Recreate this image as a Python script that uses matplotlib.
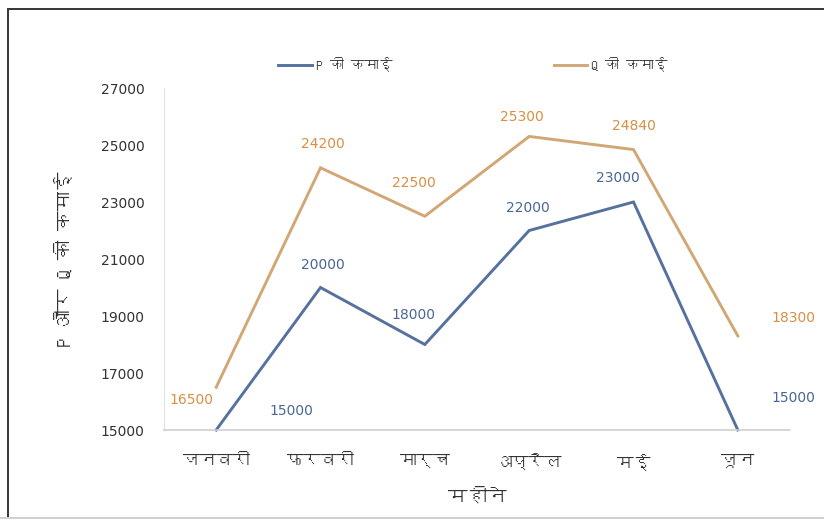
import matplotlib
matplotlib.use("Agg")
import matplotlib.pyplot as plt
from matplotlib import font_manager
from matplotlib.patches import Rectangle

months = ["जनवरी", "फरवरी", "मार्च", "अप्रैल", "मई", "जून"]
p_earnings = [15000, 20000, 18000, 22000, 23000, 15000]
q_earnings = [16500, 24200, 22500, 25300, 24840, 18300]
series_names = ["P की कमाई", "Q की कमाई"]
y_ticks = [15000, 17000, 19000, 21000, 23000, 25000, 27000]
x_title = "महीने"
y_title = "P और Q की कमाई"


def devanagari_family():
    """Return the name of an installed font that covers Devanagari, if any."""
    try:
        from fontTools.ttLib import TTFont
    except Exception:
        return None
    for entry in font_manager.fontManager.ttflist:
        try:
            tt = TTFont(entry.fname, fontNumber=0, lazy=True)
            cmap = tt.getBestCmap()
            if cmap and 0x0915 in cmap:
                return entry.name
        except Exception:
            continue
    return None


deva = devanagari_family()
families = ([deva] if deva else []) + ["DejaVu Sans"]
plt.rcParams["font.family"] = families

P_COLOR = "#56719e"
Q_COLOR = "#d2a775"
P_TEXT = "#4a6794"
Q_TEXT = "#d98f45"
TEXT = "#333333"

W, H = 824, 520
fig = plt.figure(figsize=(W / 100, H / 100), dpi=100)
ax = fig.add_axes([164 / W, 90 / H, (790 - 164) / W, (430 - 88) / H])

x = list(range(len(months)))
ax.plot(x, p_earnings, color=P_COLOR, lw=2.1, solid_joinstyle="miter",
        label=series_names[0], clip_on=False)
ax.plot(x, q_earnings, color=Q_COLOR, lw=2.1, solid_joinstyle="miter",
        label=series_names[1], clip_on=False)

ax.set_xlim(-0.5, len(months) - 0.5)
ax.set_ylim(y_ticks[0], y_ticks[-1])
ax.set_yticks(y_ticks)
ax.set_yticklabels([str(v) for v in y_ticks], fontsize=10, color=TEXT,
                   family=["DejaVu Sans"])
ax.set_xticks(x)
ax.set_xticklabels(months, fontsize=12, color=TEXT, fontweight="bold")
ax.tick_params(axis="both", length=0)
ax.tick_params(axis="y", pad=14)
ax.tick_params(axis="x", pad=17)

for side in ("top", "right"):
    ax.spines[side].set_visible(False)
ax.spines["left"].set_color("#e2e2e2")
ax.spines["bottom"].set_color("#d0d0d0")
ax.spines["bottom"].set_linewidth(1.2)

ax.set_xlabel(x_title, fontsize=14, color=TEXT, labelpad=12)
ax.set_ylabel(y_title, fontsize=14, color=TEXT, labelpad=20)

# value labels, offsets in points relative to each point
p_offsets = [(54, 14), (2, 16), (-8, 21), (-1, 16), (-11, 17), (40, 23)]
q_offsets = [(-18, -9), (2, 17), (-8, 24), (-5, 14), (0, 17), (40, 13)]
for i, v in enumerate(p_earnings):
    ax.annotate(str(v), (x[i], v), xytext=p_offsets[i], textcoords="offset points",
                ha="center", va="center", fontsize=10, color=P_TEXT,
                family=["DejaVu Sans"], annotation_clip=False)
for i, v in enumerate(q_earnings):
    ax.annotate(str(v), (x[i], v), xytext=q_offsets[i], textcoords="offset points",
                ha="center", va="center", fontsize=10, color=Q_TEXT,
                family=["DejaVu Sans"], annotation_clip=False)

leg = fig.legend(loc="center", bbox_to_anchor=(0.574, 1 - 64 / H), ncol=2,
                 frameon=False, handlelength=2.4, handletextpad=0.3,
                 columnspacing=11.6, prop={"size": 10, "weight": "bold"})
for t in leg.get_texts():
    t.set_color(TEXT)

# outer chart frame as thin filled bars: dark left and top, light bottom
FRAME = "#3a3a3a"
fig.add_artist(Rectangle((6.5 / W, 2 / H), 2 / W, 1 - 10 / H, facecolor=FRAME,
                         edgecolor="none", transform=fig.transFigure, zorder=10))
fig.add_artist(Rectangle((6.5 / W, 1 - 10 / H), 1, 2 / H, facecolor=FRAME,
                         edgecolor="none", transform=fig.transFigure, zorder=10))
fig.add_artist(Rectangle((0, 1.5 / H), 1, 1.5 / H, facecolor="#cfcfcf",
                         edgecolor="none", transform=fig.transFigure, zorder=10))

fig.savefig("out.png", dpi=100)
